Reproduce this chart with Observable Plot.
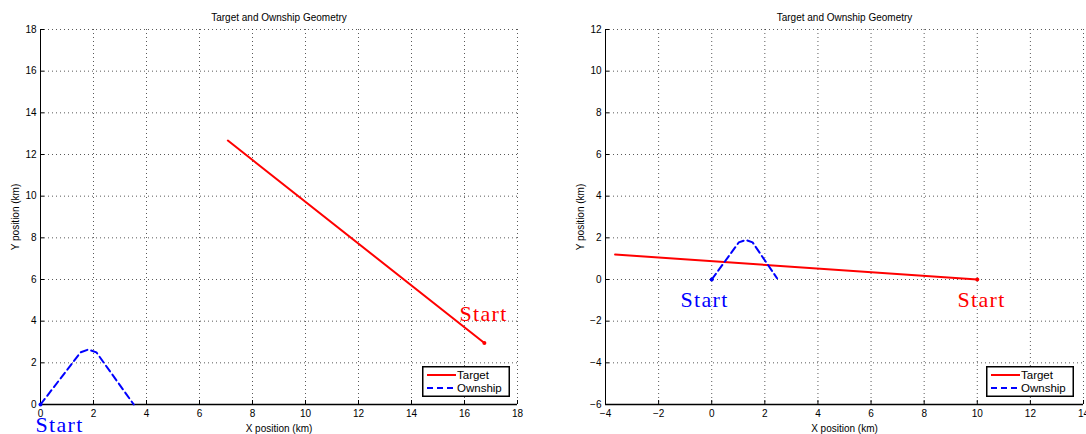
<!DOCTYPE html>
<html>
<head>
<meta charset="utf-8">
<script src="https://cdn.jsdelivr.net/npm/d3@7"></script>
<script src="https://cdn.jsdelivr.net/npm/@observablehq/plot@0.6"></script>
<style>
  body { margin: 0; background: #fff; }
  #wrap { position: relative; width: 1086px; height: 434px; display: flex; overflow: hidden; background: #fff; }
  #wrap > svg { flex: none; }
</style>
</head>
<body>
<div id="wrap"></div>
<script>
// ---- Scenario A: target crossing north-west, ownship zig from the origin ----
const targetAX = [16.75, 7.07];
const targetAY = [2.95, 12.67];
const ownshipAX = [0, 1.51, 1.81, 2.11, 3.52];
const ownshipAY = [0, 2.5, 2.64, 2.5, 0];
const startLabelAX = [16.72, 0.72];
const startLabelAY = [4.37, -1.0];
const xTicksA = [0, 2, 4, 6, 8, 10, 12, 14, 16, 18];
const yTicksA = [0, 2, 4, 6, 8, 10, 12, 14, 16, 18];

// ---- Scenario B: target moving west, ownship short manoeuvre ----
const targetBX = [10, -3.64];
const targetBY = [0, 1.2];
const ownshipBX = [0, 1.02, 1.28, 1.54, 2.46];
const ownshipBY = [0, 1.78, 1.9, 1.78, 0.06];
const startLabelBX = [10.16, -0.27];
const startLabelBY = [-0.99, -0.99];
const xTicksB = [-4, -2, 0, 2, 4, 6, 8, 10, 12, 14];
const yTicksB = [-6, -4, -2, 0, 2, 4, 6, 8, 10, 12];

const seriesNames = ["Target", "Ownship"];
const chartTitle = "Target and Ownship Geometry";
const startText = "Start";

// styles
const RED = "#ff0000", BLUE = "#0000ff";
const DASH = "7,4";
const W = 543, H = 434, MT = 29, MB = 30;

function pts(xs, ys) { return xs.map((x, i) => ({x, y: ys[i]})); }

function panel({xTicks, yTicks, tx, ty, ox, oy, lx, ly, marginLeft, marginRight}) {
  const target = pts(tx, ty);
  const own = pts(ox, oy);
  const labels = pts(lx, ly).map((d, i) => ({...d, color: i === 0 ? RED : BLUE}));
  const grid = {stroke: "#000", strokeOpacity: 0.65, strokeDasharray: "1,3", strokeWidth: 1};
  return Plot.plot({
    width: W, height: H,
    marginLeft, marginRight, marginTop: MT, marginBottom: MB,
    style: {fontFamily: "'Liberation Sans', Arial, sans-serif", fontSize: "10px", color: "#000", background: "#fff", overflow: "visible"},
    x: {domain: [xTicks[0], xTicks[xTicks.length - 1]]},
    y: {domain: [yTicks[0], yTicks[yTicks.length - 1]]},
    marks: [
      Plot.gridX(xTicks, grid),
      Plot.gridY(yTicks, grid),
      Plot.axisX(xTicks, {tickSize: -4, tickPadding: 9, label: "X position (km)", labelAnchor: "center", labelArrow: "none", labelOffset: 27}),
      Plot.axisY(yTicks, {tickSize: -4, tickPadding: 8, label: "Y position (km)", labelAnchor: "center", labelArrow: "none", labelOffset: 29}),
      Plot.ruleX([xTicks[0]], {stroke: "#000", strokeWidth: 1}),
      Plot.ruleY([yTicks[0]], {stroke: "#000", strokeWidth: 1.5}),
      Plot.line(target, {x: "x", y: "y", stroke: RED, strokeWidth: 2}),
      Plot.line(own, {x: "x", y: "y", stroke: BLUE, strokeWidth: 2, strokeDasharray: DASH}),
      Plot.dot([target[0]], {x: "x", y: "y", r: 2, fill: RED, stroke: "none"}),
      Plot.dot([own[0]], {x: "x", y: "y", r: 2, fill: BLUE, stroke: "none"}),
      Plot.text(labels, {x: "x", y: "y", text: () => startText, fill: d => d.color, fontFamily: "'Liberation Serif', 'Times New Roman', serif", fontSize: 22, lineAnchor: "middle"}),
      Plot.text([chartTitle], {frameAnchor: "top", dy: -12, lineAnchor: "middle", fontSize: 10})
    ]
  });
}

function legend(left, top) {
  const w = 88, h = 31;
  const svg = d3.create("svg")
    .attr("width", w).attr("height", h)
    .style("position", "absolute").style("left", left + "px").style("top", top + "px")
    .style("font-family", "'Liberation Sans', Arial, sans-serif").style("font-size", "11.5px");
  svg.append("rect").attr("x", 0.75).attr("y", 0.75).attr("width", w - 1.5).attr("height", h - 1.5)
    .attr("fill", "#fff").attr("stroke", "#000").attr("stroke-width", 1.5);
  const colors = [RED, BLUE], dashes = [null, "6,4"];
  seriesNames.forEach((name, i) => {
    const y = 9 + i * 13;
    svg.append("line").attr("x1", 5).attr("x2", 34).attr("y1", y).attr("y2", y)
      .attr("stroke", colors[i]).attr("stroke-width", 2).attr("stroke-dasharray", dashes[i]);
    svg.append("text").attr("x", 35).attr("y", y).attr("dy", "0.35em").text(name);
  });
  return svg.node();
}

const wrap = document.getElementById("wrap");
const mlA = 40, mrA = 26, mlB = 62, mrB = 3;
wrap.append(panel({xTicks: xTicksA, yTicks: yTicksA, tx: targetAX, ty: targetAY, ox: ownshipAX, oy: ownshipAY, lx: startLabelAX, ly: startLabelAY, marginLeft: mlA, marginRight: mrA}));
wrap.append(panel({xTicks: xTicksB, yTicks: yTicksB, tx: targetBX, ty: targetBY, ox: ownshipBX, oy: ownshipBY, lx: startLabelBX, ly: startLabelBY, marginLeft: mlB, marginRight: mrB}));
wrap.append(legend(W - mrA - 7 - 88, H - MB - 7 - 31));
wrap.append(legend(2 * W - mrB - 9 - 88, H - MB - 7 - 31));
// widen the serif labels a little
d3.selectAll("#wrap g[aria-label='text'] text").filter(function () { return this.textContent === startText; }).style("letter-spacing", "1.3px");
</script>
</body>
</html>
